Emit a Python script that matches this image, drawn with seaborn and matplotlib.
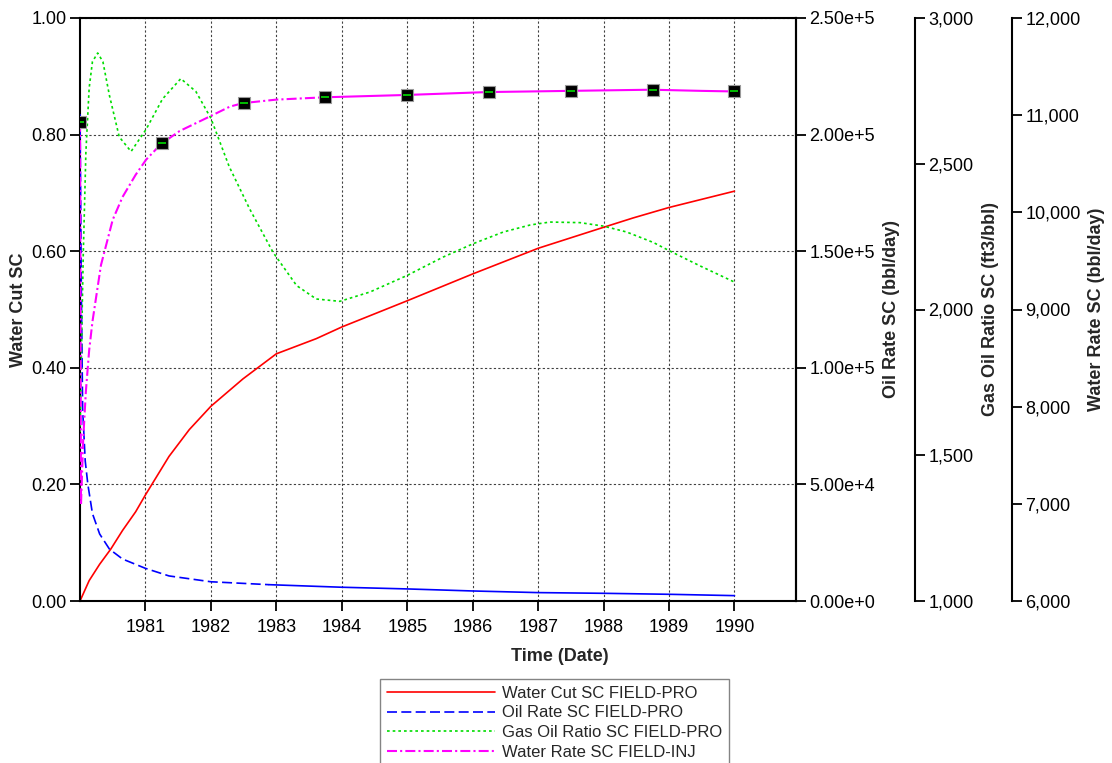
import matplotlib
matplotlib.use("Agg")
import matplotlib.pyplot as plt
from matplotlib.ticker import FuncFormatter
from matplotlib.lines import Line2D
import seaborn as sns
import pandas as pd

# ---- field production data (time in decimal years) ----
t_wc = [1980.0, 1980.14, 1980.30, 1980.47, 1980.65, 1980.85, 1981.0, 1981.36, 1981.67,
        1982.0, 1982.49, 1983.0, 1983.61, 1984.0, 1985.0, 1986.0, 1987.0, 1988.0,
        1988.45, 1989.0, 1990.0]
water_cut = [0.0, 0.035, 0.063, 0.089, 0.121, 0.153, 0.182, 0.248, 0.294,
             0.334, 0.381, 0.424, 0.450, 0.470, 0.515, 0.561, 0.605, 0.641,
             0.657, 0.675, 0.703]

t_oil = [1980.0, 1980.02, 1980.04, 1980.08, 1980.12, 1980.19, 1980.30, 1980.45, 1980.65,
         1981.0, 1981.36, 1982.0, 1982.89, 1984.0, 1985.0, 1986.0, 1987.0, 1988.0,
         1989.0, 1990.0]
oil_rate = [208750, 135000, 82500, 60000, 50000, 37500, 28750, 22250, 18000,
            14000, 10750, 8250, 7000, 5900, 5175, 4300, 3600, 3300,
            2875, 2300]

t_gor = [1980.0, 1980.03, 1980.05, 1980.09, 1980.14, 1980.19, 1980.27, 1980.35, 1980.45,
         1980.60, 1980.78, 1981.01, 1981.26, 1981.54, 1981.77, 1982.0, 1982.28, 1982.59,
         1982.95, 1983.31, 1983.61, 1983.97, 1984.43, 1984.99, 1985.55, 1986.01, 1986.47,
         1986.88, 1987.18, 1987.64, 1988.0, 1988.35, 1988.76, 1989.0, 1989.47, 1990.0]
gas_oil_ratio = [1560, 1958, 2190, 2540, 2760, 2850, 2880, 2850, 2734,
                 2592, 2542, 2618, 2722, 2792, 2748, 2656, 2490, 2346,
                 2196, 2082, 2036, 2028, 2060, 2116, 2180, 2226, 2266,
                 2290, 2300, 2298, 2286, 2266, 2230, 2202, 2150, 2094]

t_wr = [1980.0, 1980.015, 1980.05, 1980.09, 1980.14, 1980.19, 1980.32, 1980.50, 1980.65,
        1980.85, 1981.01, 1981.24, 1981.52, 1982.0, 1982.29, 1982.49, 1983.0, 1983.74,
        1984.99, 1986.24, 1986.88, 1987.48, 1988.73, 1989.5, 1990.0]
water_rate = [10932, 6984, 7680, 8160, 8580, 8874, 9456, 9924, 10158,
              10386, 10542, 10704, 10836, 10992, 11088, 11124, 11160, 11184,
              11208, 11238, 11244, 11250, 11262, 11250, 11244]

t_obs = [1980.0, 1981.25, 1982.5, 1983.75, 1985.0, 1986.25, 1987.5, 1988.75, 1990.0]
water_rate_obs = [10932, 10710, 11124, 11184, 11208, 11238, 11250, 11262, 11244]

year_ticks = [1981, 1982, 1983, 1984, 1985, 1986, 1987, 1988, 1989, 1990]
series_labels = ["Water Cut SC FIELD-PRO", "Oil Rate SC FIELD-PRO",
                 "Gas Oil Ratio SC FIELD-PRO", "Water Rate SC FIELD-INJ"]

sns.set_style("white")
plt.rcParams["font.family"] = ["Liberation Sans", "DejaVu Sans"]

RED, BLUE, GREEN, MAGENTA = "#ff0000", "#0000ff", "#00dd00", "#ff00ff"
dash_blue = (0, (6.0, 2.6))
dot_green = (0, (1.6, 1.8))
dashdot_mag = (0, (4.8, 1.5, 1.0, 1.5))

W, H = 1112, 763
fig = plt.figure(figsize=(W / 100, H / 100), dpi=100)
ax = fig.add_axes([80 / W, 1 - 601 / H, 716 / W, 583 / H])
ax_oil = ax.twinx()
ax_gor = ax.twinx()
ax_wr = ax.twinx()
ax_gor.spines["right"].set_position(("axes", (915 - 80) / 716))
ax_wr.spines["right"].set_position(("axes", (1012 - 80) / 716))

for a in (ax_oil, ax_gor, ax_wr):
    for s in ("top", "bottom", "left"):
        a.spines[s].set_visible(False)
    a.spines["right"].set_linewidth(1.5)
    a.spines["right"].set_color("black")
for s in ax.spines.values():
    s.set_linewidth(1.5)
    s.set_color("black")

def seg(t, v, a, b):
    return pd.DataFrame({"t": t[a:b], "v": v[a:b]})

# water cut
sns.lineplot(data=seg(t_wc, water_cut, 0, None), x="t", y="v", ax=ax, color=RED,
             lw=1.2, sort=False, errorbar=None)

# oil rate: dashed early, continuous once the samples get dense
k = t_oil.index(1982.89)
sns.lineplot(data=seg(t_oil, oil_rate, 0, k + 1), x="t", y="v", ax=ax_oil, color=BLUE,
             lw=1.2, linestyle=dash_blue, sort=False, errorbar=None)
sns.lineplot(data=seg(t_oil, oil_rate, k, None), x="t", y="v", ax=ax_oil, color=BLUE,
             lw=1.2, sort=False, errorbar=None)

# gas oil ratio
sns.lineplot(data=seg(t_gor, gas_oil_ratio, 0, None), x="t", y="v", ax=ax_gor, color=GREEN,
             lw=1.2, linestyle=dot_green, sort=False, errorbar=None)

# water injection rate
k = t_wr.index(1983.74)
sns.lineplot(data=seg(t_wr, water_rate, 0, k + 1), x="t", y="v", ax=ax_wr, color=MAGENTA,
             lw=1.5, linestyle=dashdot_mag, sort=False, errorbar=None)
sns.lineplot(data=seg(t_wr, water_rate, k, None), x="t", y="v", ax=ax_wr, color=MAGENTA,
             lw=1.5, sort=False, errorbar=None)
obs = pd.DataFrame({"t": t_obs, "v": water_rate_obs})
sns.scatterplot(data=obs, x="t", y="v", ax=ax_wr, marker="s", s=75, color="black",
                edgecolor="#9a9a9a", linewidth=0.8, zorder=5)
sns.scatterplot(data=obs, x="t", y="v", ax=ax_wr, marker="_", s=30, color=GREEN,
                linewidth=1.2, zorder=6)

# axes limits and ticks
ax.set_xlim(1980.0, 1990.94)
ax.set_ylim(0, 1.0)
ax_oil.set_ylim(0, 2.5e5)
ax_gor.set_ylim(1000, 3000)
ax_wr.set_ylim(6000, 12000)

ax.set_xticks(year_ticks)
ax.set_xticklabels([str(y) for y in year_ticks])
ax.set_yticks([0, 0.2, 0.4, 0.6, 0.8, 1.0])
ax.yaxis.set_major_formatter(FuncFormatter(lambda v, p: f"{v:.2f}"))

def sci_fmt(v, p):
    if v == 0:
        return "0.00e+0"
    m, e = f"{v:.2e}".split("e")
    return f"{m}e+{int(e)}"

ax_oil.set_yticks([0, 5e4, 1e5, 1.5e5, 2e5, 2.5e5])
ax_oil.yaxis.set_major_formatter(FuncFormatter(sci_fmt))
ax_gor.set_yticks([1000, 1500, 2000, 2500, 3000])
ax_gor.yaxis.set_major_formatter(FuncFormatter(lambda v, p: f"{int(v):,}"))
ax_wr.set_yticks(list(range(6000, 12001, 1000)))
ax_wr.yaxis.set_major_formatter(FuncFormatter(lambda v, p: f"{int(v):,}"))

ax.tick_params(axis="y", direction="out", length=7, width=1.3, labelsize=13, pad=2.5,
               left=True, colors="black")
ax.tick_params(axis="x", direction="out", length=7, width=1.3, labelsize=13, pad=6,
               bottom=True, colors="black")
for a in (ax_oil, ax_gor, ax_wr):
    a.tick_params(axis="y", direction="out", length=7, width=1.3, labelsize=13, pad=2.5,
                  right=True, colors="black")

ax.grid(True, linestyle=(0, (2, 2)), color="#404040", lw=0.8)
ax.set_axisbelow(True)

# axis titles
bold = dict(fontsize=13, fontweight="bold")
ax.set_xlabel("Time (Date)", **bold)
ax.xaxis.set_label_coords((560 - 80) / 716, (601 - 648) / 583)
ax.set_ylabel("Water Cut SC", **bold)
ax.yaxis.set_label_coords((27 - 80) / 716, 0.5)
ax_oil.set_ylabel("Oil Rate SC (bbl/day)", **bold)
ax_oil.yaxis.set_label_coords((883 - 80) / 716, 0.5)
ax_gor.set_ylabel("Gas Oil Ratio SC (ft3/bbl)", **bold)
ax_gor.yaxis.set_label_coords((982 - 80) / 716, 0.5)
ax_wr.set_ylabel("Water Rate SC (bbl/day)", **bold)
ax_wr.yaxis.set_label_coords((1088 - 80) / 716, 0.5)

for a in (ax, ax_oil, ax_gor, ax_wr):
    lg = a.get_legend()
    if lg is not None:
        lg.remove()

handles = [
    Line2D([], [], color=RED, lw=1.2),
    Line2D([], [], color=BLUE, lw=1.2, linestyle=dash_blue),
    Line2D([], [], color=GREEN, lw=1.2, linestyle=dot_green),
    Line2D([], [], color=MAGENTA, lw=1.5, linestyle=dashdot_mag),
]
leg = fig.legend(handles, series_labels, loc="upper left",
                 bbox_to_anchor=(380 / W, 1 - 679 / H), bbox_transform=fig.transFigure,
                 frameon=True, fancybox=False, edgecolor="#666666", fontsize=12,
                 handlelength=6.5, handletextpad=0.42, labelspacing=0.28,
                 borderpad=0.4, borderaxespad=0)
leg.get_frame().set_linewidth(1.0)

fig.savefig("out.png", dpi=100)
